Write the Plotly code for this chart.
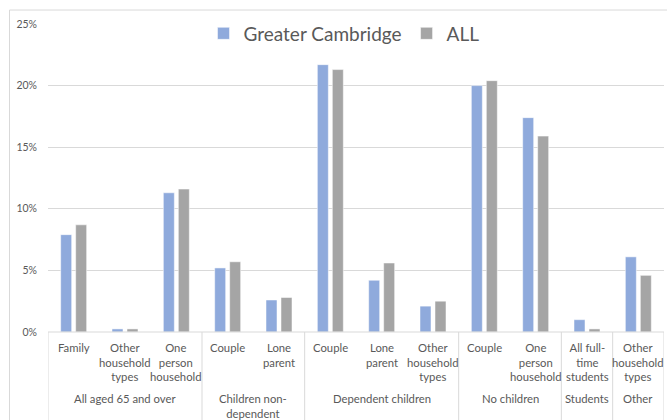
import plotly.graph_objects as go

# Household composition share, two series over 12 sub-categories in 6 groups
sub_labels = [
    "Family", "Other<br>household<br>types", "One<br>person<br>household",
    "Couple", "Lone<br>parent",
    "Couple", "Lone<br>parent", "Other<br>household<br>types",
    "Couple", "One<br>person<br>household",
    "All full-<br>time<br>students",
    "Other<br>household<br>types",
]
group_labels = ["All aged 65 and over", "Children non-<br>dependent", "Dependent children",
                "No children", "Students", "Other"]
group_sizes = [3, 2, 3, 2, 1, 1]

greater_cambridge = [0.079, 0.0025, 0.113, 0.052, 0.026, 0.217, 0.042, 0.021, 0.200, 0.174, 0.010, 0.061]
all_areas = [0.087, 0.0025, 0.116, 0.057, 0.028, 0.213, 0.056, 0.025, 0.204, 0.159, 0.0025, 0.046]

y_ticks = [0, 0.05, 0.10, 0.15, 0.20, 0.25]

W, H = 667, 420
ML, MR, MT, MB = 48, 3, 23.5, 88
PH = H - MT - MB
PW = W - ML - MR


def py(pix):
    """Pixel row -> paper y."""
    return (H - MB - pix) / PH


def px(pix):
    """Pixel column -> paper x."""
    return (pix - ML) / PW


FONT = "Lato"
TXT = "#595959"
xs = list(range(len(sub_labels)))

fig = go.Figure()
fig.add_trace(go.Bar(x=xs, y=greater_cambridge, name="Greater Cambridge",
                     marker=dict(color="#8FAADC", line=dict(color="white", width=0.5))))
fig.add_trace(go.Bar(x=xs, y=all_areas, name="ALL",
                     marker=dict(color="#A5A5A5", line=dict(color="white", width=0.5))))

annotations = []
for i, lab in enumerate(sub_labels):
    annotations.append(dict(x=i, xref="x", y=py(339), yref="paper", text=lab,
                            showarrow=False, xanchor="center", yanchor="top",
                            font=dict(family=FONT, size=11.3, color=TXT)))

shapes = []
start = 0
bounds = [-0.5]
for lab, n in zip(group_labels, group_sizes):
    centre = start + (n - 1) / 2
    annotations.append(dict(x=centre, xref="x", y=py(390), yref="paper", text=lab,
                            showarrow=False, xanchor="center", yanchor="top",
                            font=dict(family=FONT, size=11.3, color=TXT)))
    start += n
    bounds.append(start - 0.5)

for b in bounds:
    shapes.append(dict(type="line", xref="x", yref="paper", x0=b, x1=b,
                       y0=0, y1=py(425), line=dict(color="#D9D9D9", width=1)))

# baseline of the category axis
shapes.append(dict(type="line", xref="paper", yref="paper", x0=0, x1=1, y0=0, y1=0,
                   line=dict(color="#D9D9D9", width=1)))
# chart frame
shapes.append(dict(type="rect", xref="paper", yref="paper", x0=px(9.5), x1=px(720),
                   y0=py(430), y1=py(9.5), line=dict(color="#D9D9D9", width=1)))

fig.update_layout(
    width=W, height=H,
    margin=dict(l=ML, r=MR, t=MT, b=MB),
    paper_bgcolor="white", plot_bgcolor="white",
    barmode="group", bargap=0.416, bargroupgap=0.267,
    font=dict(family=FONT, color=TXT),
    showlegend=True,
    legend=dict(orientation="h", x=px(344), xanchor="center", y=py(33), yanchor="middle",
                bgcolor="white", font=dict(family=FONT, size=19, color=TXT),
                itemwidth=30, traceorder="normal"),
    xaxis=dict(range=[-0.5, len(sub_labels) - 0.5], showticklabels=False, showgrid=False,
               zeroline=False, showline=False, ticks=""),
    yaxis=dict(range=[0, 0.25], tickvals=y_ticks, tickformat=".0%", showgrid=True,
               gridcolor="#D9D9D9", gridwidth=1, zeroline=False, showline=False,
               ticks="", ticklabelstandoff=10,
               tickfont=dict(family=FONT, size=10.5, color=TXT)),
    annotations=annotations,
    shapes=shapes,
)

fig.write_html("out.html")
